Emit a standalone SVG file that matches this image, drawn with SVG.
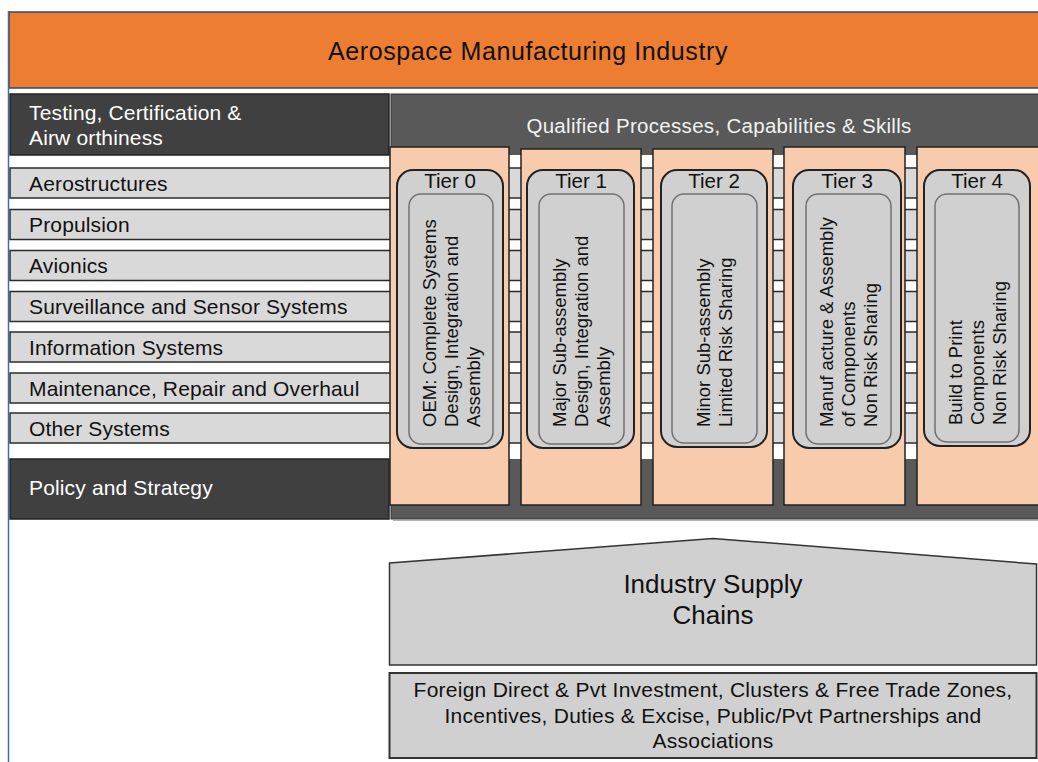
<svg xmlns="http://www.w3.org/2000/svg" width="1038" height="762" viewBox="0 0 1038 762">
<style>
text{font-family:"Liberation Sans",Arial,sans-serif;}
.bar{fill:#d9d9d9;stroke:#2b2b2b;stroke-width:1.5;}
.lbl{font-size:21px;fill:#111;letter-spacing:0.15px;}
.wlbl{font-size:21px;fill:#fff;letter-spacing:0.15px;}
.dark{fill:#404040;stroke:#222;stroke-width:1.5;}
.col{fill:#f8cbad;stroke:#222;stroke-width:1.5;}
.pill{fill:#d0d0d0;stroke:#222;stroke-width:2;}
.pin{fill:#d0d0d0;stroke:#707070;stroke-width:1.5;}
.tier{font-size:20.5px;fill:#111;text-anchor:middle;}
.vt{font-size:18.5px;fill:#111;}
.gray{fill:#d0d0d0;stroke:#333;stroke-width:1.5;}
</style>
<rect x="0" y="0" width="1038" height="762" fill="#fff"/>

<g id="header">
<rect x="9" y="12" width="1035" height="76" fill="#ed7d31" stroke="#2e4a72" stroke-width="1.5"/>
<text x="528" y="60" text-anchor="middle" style="font-size:25px;letter-spacing:0.6px;fill:#111">Aerospace Manufacturing Industry</text>
</g>

<g id="qualified">
<rect x="391" y="94" width="650" height="425" fill="#595959" stroke="#333" stroke-width="1"/>
<line x1="393" y1="520" x2="1038" y2="520" stroke="#9a9a9a" stroke-width="1.5"/>
<rect x="391" y="155" width="648" height="304" fill="#fff"/>
<text x="719" y="133" text-anchor="middle" style="font-size:20.5px;letter-spacing:0.3px;fill:#f2f2f2">Qualified Processes, Capabilities &amp; Skills</text>
</g>

<g id="rows">
<g id="aerostructures"><rect class="bar" x="10" y="168" width="1030" height="30"/><text class="lbl" x="29" y="190.5">Aerostructures</text></g>
<g id="propulsion"><rect class="bar" x="10" y="209.5" width="1030" height="30"/><text class="lbl" x="29" y="232">Propulsion</text></g>
<g id="avionics"><rect class="bar" x="10" y="250.5" width="1030" height="30"/><text class="lbl" x="29" y="273">Avionics</text></g>
<g id="surveillance"><rect class="bar" x="10" y="291.5" width="1030" height="30"/><text class="lbl" x="29" y="314">Surveillance and Sensor Systems</text></g>
<g id="information"><rect class="bar" x="10" y="332" width="1030" height="30"/><text class="lbl" x="29" y="354.5">Information Systems</text></g>
<g id="maintenance"><rect class="bar" x="10" y="373" width="1030" height="30"/><text class="lbl" x="29" y="395.5">Maintenance, Repair and Overhaul</text></g>
<g id="other"><rect class="bar" x="10" y="413" width="1030" height="30"/><text class="lbl" x="29" y="435.5">Other Systems</text></g>
</g>

<g id="testing">
<rect class="dark" x="10" y="94" width="379" height="61"/>
<text class="wlbl" x="29" y="120">Testing, Certification &amp;</text>
<text class="wlbl" x="29" y="145">Airw orthiness</text>
</g>

<g id="policy">
<rect class="dark" x="10" y="459" width="379" height="60"/>
<text class="wlbl" x="29" y="495">Policy and Strategy</text>
</g>

<g id="tier0">
<rect class="col" x="390" y="147" width="119" height="358"/>
<rect class="pill" x="397" y="170" width="106" height="278" rx="16"/>
<rect class="pin" x="409" y="194" width="84" height="250" rx="12"/>
<text class="tier" x="450" y="188">Tier 0</text>
<text class="vt" transform="translate(436,427) rotate(-90)">OEM:  Complete Systems</text>
<text class="vt" transform="translate(458,427) rotate(-90)">Design, Integration and</text>
<text class="vt" transform="translate(480,427) rotate(-90)">Assembly</text>
</g>

<g id="tier1">
<rect class="col" x="521" y="149" width="120" height="356"/>
<rect class="pill" x="527" y="170" width="107" height="278" rx="16"/>
<rect class="pin" x="539" y="194" width="85" height="250" rx="12"/>
<text class="tier" x="581" y="188">Tier 1</text>
<text class="vt" transform="translate(566,427) rotate(-90)">Major Sub-assembly</text>
<text class="vt" transform="translate(588,427) rotate(-90)">Design, Integration and</text>
<text class="vt" transform="translate(610,427) rotate(-90)">Assembly</text>
</g>

<g id="tier2">
<rect class="col" x="653" y="149" width="120" height="356"/>
<rect class="pill" x="661" y="170" width="106" height="277" rx="16"/>
<rect class="pin" x="672" y="194" width="85" height="249" rx="12"/>
<text class="tier" x="714" y="188">Tier 2</text>
<text class="vt" transform="translate(710,427) rotate(-90)">Minor Sub-assembly</text>
<text class="vt" transform="translate(732,427) rotate(-90)">Limited Risk Sharing</text>
</g>

<g id="tier3">
<rect class="col" x="784" y="147" width="121" height="358"/>
<rect class="pill" x="793" y="170" width="108" height="278" rx="16"/>
<rect class="pin" x="806" y="194" width="85" height="250" rx="12"/>
<text class="tier" x="847" y="188">Tier 3</text>
<text class="vt" transform="translate(833,427) rotate(-90)">Manuf acture &amp; Assembly</text>
<text class="vt" transform="translate(855,427) rotate(-90)">of Components</text>
<text class="vt" transform="translate(877,427) rotate(-90)">Non Risk Sharing</text>
</g>

<g id="tier4">
<rect class="col" x="917" y="147" width="123" height="358"/>
<rect class="pill" x="924" y="170" width="106" height="276" rx="16"/>
<rect class="pin" x="935" y="194" width="84" height="248" rx="12"/>
<text class="tier" x="977" y="188">Tier 4</text>
<text class="vt" transform="translate(962,425) rotate(-90)">Build to Print</text>
<text class="vt" transform="translate(984,425) rotate(-90)">Components</text>
<text class="vt" transform="translate(1006,425) rotate(-90)">Non Risk Sharing</text>
</g>

<g id="supply-chains">
<polygon class="gray" points="389.5,563 713,538.5 1036.5,564 1036.5,665 389.5,665"/>
<text x="713" y="593" text-anchor="middle" style="font-size:26px;fill:#111">Industry Supply</text>
<text x="713" y="624" text-anchor="middle" style="font-size:26px;fill:#111">Chains</text>
</g>

<g id="investment">
<rect class="gray" x="389.5" y="673" width="647" height="85" style="stroke-width:2"/>
<text x="713" y="697" text-anchor="middle" style="font-size:21px;letter-spacing:0.25px;fill:#111">Foreign Direct &amp; Pvt Investment, Clusters &amp; Free Trade Zones,</text>
<text x="713" y="723" text-anchor="middle" style="font-size:21px;letter-spacing:0.25px;fill:#111">Incentives, Duties &amp; Excise, Public/Pvt Partnerships and</text>
<text x="713" y="748" text-anchor="middle" style="font-size:21px;letter-spacing:0.25px;fill:#111">Associations</text>
</g>

<line x1="8.5" y1="11" x2="8.5" y2="762" stroke="#4a6a9a" stroke-width="1.5"/>
</svg>
